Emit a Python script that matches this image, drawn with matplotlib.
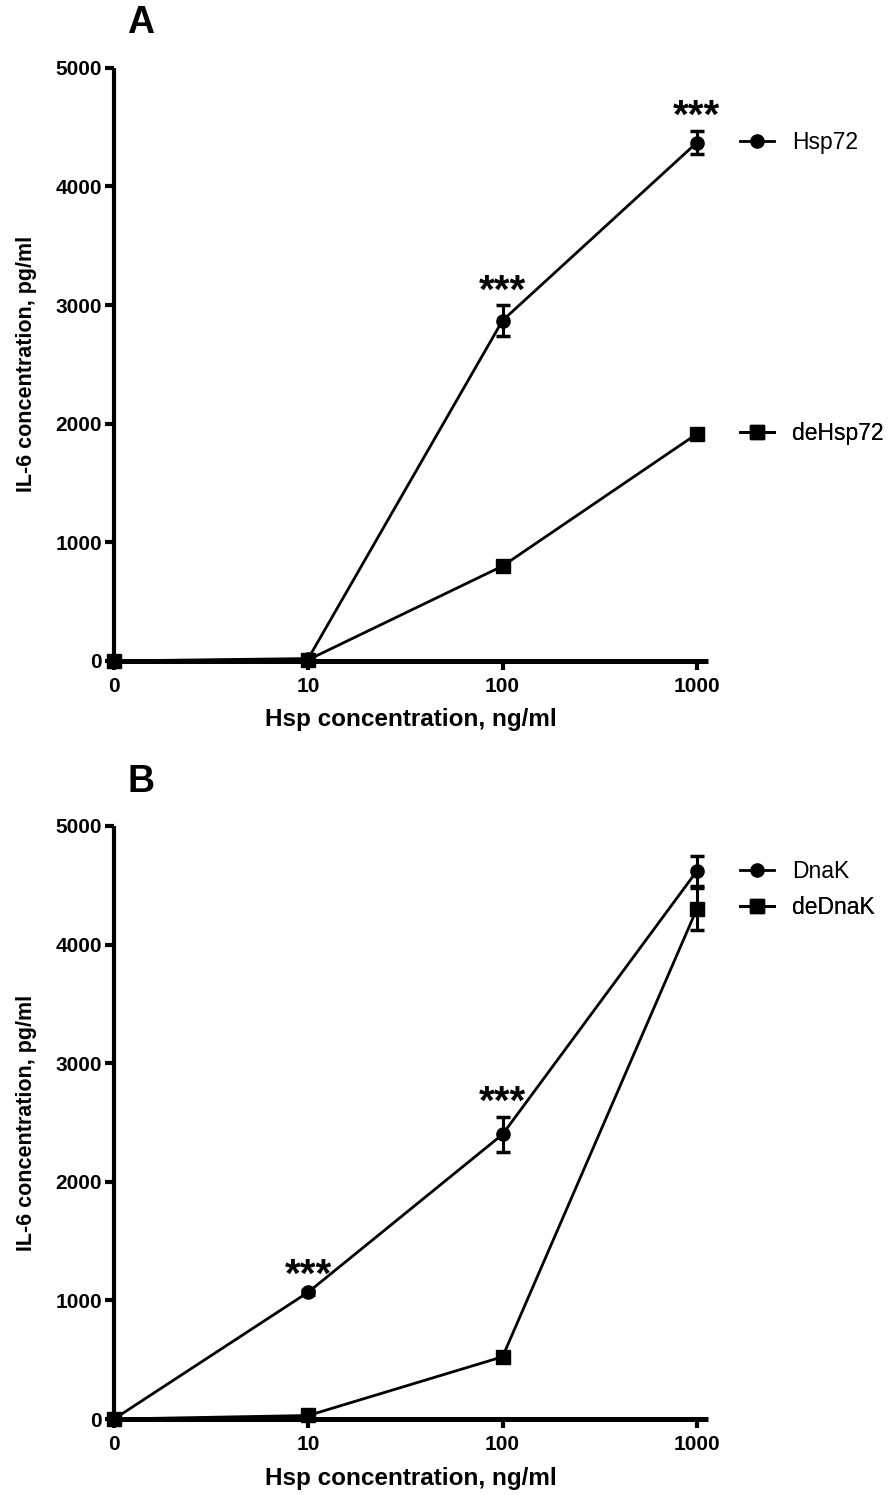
import matplotlib.pyplot as plt
import matplotlib.transforms as mtransforms
from matplotlib.lines import Line2D

plt.rcParams['font.family'] = ['Liberation Sans', 'DejaVu Sans']

# x categories (Hsp concentration, ng/ml), drawn equally spaced
dose_labels = ['0', '10', '100', '1000']
dose_pos = [0, 1, 2, 3]

# panel A
hsp72 = [0, 20, 2870, 4370]
hsp72_err = [0, 0, 130, 100]
dehsp72 = [0, 10, 800, 1914]
dehsp72_err = [0, 0, 30, 30]
stars_a = [2, 3]  # positions with ***

# panel B
dnak = [0, 1070, 2400, 4620]
dnak_err = [0, 20, 150, 130]
dednak = [0, 30, 525, 4300]
dednak_err = [0, 0, 20, 175]
stars_b = [1, 2]

fig = plt.figure(figsize=(8.94, 14.95), dpi=100)
ax_a = fig.add_axes([0.1275, 0.5579, 0.665, 0.3967])
ax_b = fig.add_axes([0.1275, 0.0508, 0.665, 0.3967])


def draw_series(ax, y, err, marker, label):
    ax.errorbar(dose_pos, y, yerr=err, color='black', marker=marker,
                markersize=9.5, linewidth=2, elinewidth=2.2, capsize=5,
                capthick=2.5, clip_on=False, zorder=3, label=label)


def legend_entry(ax, marker, label, yval):
    h = Line2D([], [], color='black', marker=marker, markersize=9.5, linewidth=2)
    tr = mtransforms.blended_transform_factory(ax.transAxes, ax.transData)
    leg = ax.legend(handles=[h], labels=[label], loc='center left',
                    bbox_to_anchor=(1.053, yval), bbox_transform=tr,
                    frameon=False, fontsize=16.5, handlelength=1.5,
                    handletextpad=0.78, borderpad=0, borderaxespad=0)
    ax.add_artist(leg)


def style(ax, letter):
    ax.set_xlim(0, 3.06)
    ax.set_ylim(0, 5000)
    ax.set_xticks(dose_pos)
    ax.set_xticklabels(dose_labels)
    ax.set_yticks([0, 1000, 2000, 3000, 4000, 5000])
    for s in ['top', 'right']:
        ax.spines[s].set_visible(False)
    ax.spines['left'].set_linewidth(3)
    ax.spines['bottom'].set_linewidth(3.6)
    for s in ['left', 'bottom']:
        ax.spines[s].set_capstyle('butt')
    ax.tick_params(length=6.5, width=3, labelsize=15, pad=2)
    ax.tick_params(axis='x', pad=5)
    for t in ax.get_xticklabels() + ax.get_yticklabels():
        t.set_fontweight('bold')
    ax.set_xlabel('Hsp concentration, ng/ml', fontsize=17.5,
                  fontweight='bold', labelpad=9)
    ax.set_ylabel('IL-6 concentration, pg/ml', fontsize=15.5,
                  fontweight='bold', labelpad=13)
    ax.text(0.045, 1.075, letter, transform=ax.transAxes, fontsize=27,
            fontweight='bold', ha='center', va='center')


def add_stars(ax, y, err, where):
    for i in where:
        ax.annotate('***', (dose_pos[i], y[i] + err[i]), xytext=(0, 2),
                    textcoords='offset points', ha='center', va='baseline',
                    fontsize=29, fontweight='bold')


draw_series(ax_a, hsp72, hsp72_err, 'o', 'Hsp72')
draw_series(ax_a, dehsp72, dehsp72_err, 's', 'deHsp72')
add_stars(ax_a, hsp72, hsp72_err, stars_a)
style(ax_a, 'A')
legend_entry(ax_a, 'o', 'Hsp72', hsp72[-1])
legend_entry(ax_a, 's', 'deHsp72', dehsp72[-1])

draw_series(ax_b, dnak, dnak_err, 'o', 'DnaK')
draw_series(ax_b, dednak, dednak_err, 's', 'deDnaK')
add_stars(ax_b, dnak, dnak_err, stars_b)
style(ax_b, 'B')
legend_entry(ax_b, 'o', 'DnaK', dnak[-1])
legend_entry(ax_b, 's', 'deDnaK', dnak[-1] - 310)

fig.savefig('out.png', dpi=100)
plt.close()
